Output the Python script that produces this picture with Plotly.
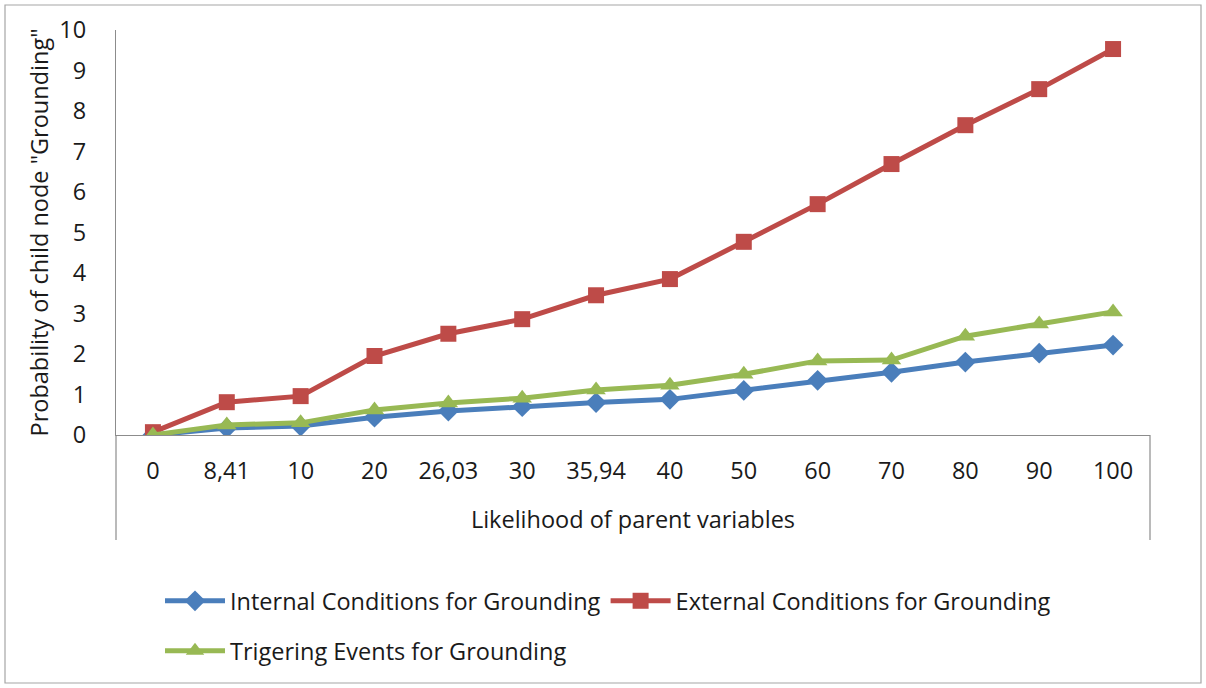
import plotly.graph_objects as go

# Likelihood of parent variables (category axis labels)
categories = ["0", "8,41", "10", "20", "26,03", "30", "35,94", "40",
              "50", "60", "70", "80", "90", "100"]

internal_conditions = [0.0, 0.17, 0.22, 0.44, 0.59, 0.70, 0.80, 0.88,
                       1.10, 1.35, 1.55, 1.80, 2.02, 2.22]
external_conditions = [0.07, 0.81, 0.96, 1.95, 2.50, 2.86, 3.45, 3.85,
                       4.77, 5.70, 6.69, 7.65, 8.54, 9.53]
triggering_events = [0.0, 0.25, 0.30, 0.62, 0.79, 0.91, 1.11, 1.23,
                     1.50, 1.83, 1.85, 2.44, 2.74, 3.04]

y_ticks = list(range(0, 11))

FONT = "Open Sans"
FS = 23.5
AXIS_GREY = "#8c8c8c"

fig = go.Figure()

fig.add_trace(go.Scatter(
    x=categories, y=internal_conditions, mode="lines+markers",
    name="Internal Conditions for Grounding",
    line=dict(color="#4A7EBB", width=5),
    marker=dict(symbol="diamond", size=16, color="#4A7EBB"),
    legend="legend",
))
fig.add_trace(go.Scatter(
    x=categories, y=external_conditions, mode="lines+markers",
    name="External Conditions for Grounding",
    line=dict(color="#BE4B48", width=5),
    marker=dict(symbol="square", size=16, color="#BE4B48"),
    legend="legend",
))
fig.add_trace(go.Scatter(
    x=categories, y=triggering_events, mode="lines+markers",
    name="Trigering Events for Grounding",
    line=dict(color="#98B954", width=5),
    marker=dict(symbol="triangle-up", size=17, color="#98B954"),
    legend="legend2",
))

# plot area in pixels: x 116..1150, y 30..435
PL, PR, PT, PB = 116, 1150, 30, 435
W, H = 1206, 688
pw, ph = PR - PL, PB - PT


def px_x(x):
    return (x - PL) / pw


def px_y(y):
    return (PB - y) / ph


shapes = [
    # outer chart border
    dict(type="rect", xref="paper", yref="paper",
         x0=px_x(5), x1=px_x(1201), y0=px_y(683), y1=px_y(5),
         line=dict(color="#a6a6a6", width=1.2), layer="below"),
    # category label box sides
    dict(type="line", xref="paper", yref="paper",
         x0=0, x1=0, y0=0, y1=px_y(540),
         line=dict(color=AXIS_GREY, width=1.2)),
    dict(type="line", xref="paper", yref="paper",
         x0=1, x1=1, y0=0, y1=px_y(540),
         line=dict(color=AXIS_GREY, width=1.2)),
]

fig.update_layout(
    width=W, height=H,
    margin=dict(l=PL, r=W - PR, t=PT, b=H - PB),
    paper_bgcolor="white", plot_bgcolor="white",
    font=dict(family=FONT, size=FS, color="#1a1a1a"),
    shapes=shapes,
    legend=dict(
        orientation="h", xref="container", yref="container",
        x=160 / W, y=1 - 601 / H, xanchor="left", yanchor="middle",
        font=dict(size=FS), itemwidth=60, bgcolor="rgba(0,0,0,0)",
        tracegroupgap=0,
    ),
    legend2=dict(
        orientation="h", xref="container", yref="container",
        x=160 / W, y=1 - 651 / H, xanchor="left", yanchor="middle",
        font=dict(size=FS), itemwidth=60, bgcolor="rgba(0,0,0,0)",
    ),
    xaxis=dict(
        type="category", range=[-0.5, len(categories) - 0.5],
        showgrid=False, zeroline=False,
        showline=True, linecolor=AXIS_GREY, linewidth=1.2,
        ticks="", ticklabelstandoff=15,
        tickfont=dict(size=FS),
        title=dict(text="Likelihood of parent variables",
                   font=dict(size=FS), standoff=26),
    ),
    yaxis=dict(
        range=[0, 10], tickvals=y_ticks, showgrid=False, zeroline=False,
        showline=True, linecolor=AXIS_GREY, linewidth=1.2,
        ticks="", ticklabelstandoff=24,
        tickfont=dict(size=FS),
        title=dict(text='Probability of child node "Grounding"',
                   font=dict(size=FS), standoff=4),
    ),
)

fig.write_html("out.html")
